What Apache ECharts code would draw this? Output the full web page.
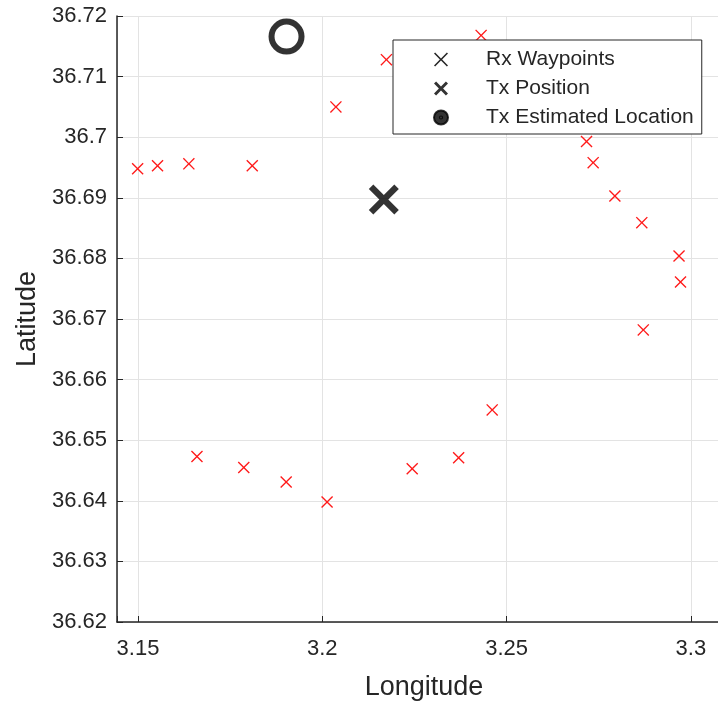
<!DOCTYPE html>
<html>
<head>
<meta charset="utf-8">
<script src="https://cdn.jsdelivr.net/npm/echarts@6/dist/echarts.min.js"></script>
<style>
  html, body { margin: 0; padding: 0; background: #fff; }
  #main { width: 718px; height: 703px; }
</style>
</head>
<body>
<div id="main"></div>
<script>
// receiver waypoints (lon / lat)
var rxLon = [3.1499, 3.1553, 3.1638, 3.1810, 3.2037, 3.2174, 3.2431,
             3.2717, 3.2735, 3.2794, 3.2867, 3.2968, 3.2972, 3.2871,
             3.2461, 3.2370, 3.2244, 3.2013, 3.1902, 3.1787, 3.1660];
var rxLat = [36.6948, 36.6953, 36.6956, 36.6953, 36.7050, 36.7128, 36.7168,
             36.6993, 36.6958, 36.6903, 36.6859, 36.6804, 36.6761, 36.6682,
             36.6550, 36.6471, 36.6453, 36.6398, 36.6431, 36.6455, 36.6473];
var txPos = [3.2167, 36.6897];
var txEst = [3.1903, 36.7166];

var xTicks = ['3.15', '3.2', '3.25', '3.3'];
var yTicks = [36.62, 36.63, 36.64, 36.65, 36.66, 36.67, 36.68, 36.69, 36.70, 36.71, 36.72];

var font = 'Liberation Sans, Arial, Helvetica, sans-serif';
var ink = '#262626';

// marker shapes
var thinX = 'path://M0,8 L8,0 L50,42 L92,0 L100,8 L58,50 L100,92 L92,100 L50,58 L8,100 L0,92 L42,50 Z';
var boldX = 'path://M0,15 L15,0 L50,35 L85,0 L100,15 L65,50 L100,85 L85,100 L50,65 L15,100 L0,85 L35,50 Z';
var ring = 'path://M50,0 A50,50 0 1,1 49.99,0 Z M50,42 A8,8 0 1,0 50.01,42 Z';

var rxData = rxLon.map(function (v, i) { return [v, rxLat[i]]; });

var myChart = echarts.init(document.getElementById('main'));
var option = {
    animation: false,
    backgroundColor: '#fff',
    grid: { left: 117, top: 16, right: -13, bottom: 81, outerBoundsMode: 'none', containLabel: false },
    legend: {
        orient: 'vertical',
        left: 393,
        top: 40,
        padding: [9, 8, 6, 40],
        itemGap: 8,
        itemWidth: 14,
        itemHeight: 14,
        backgroundColor: '#fff',
        borderColor: ink,
        borderWidth: 1,
        borderRadius: 0,
        textStyle: { fontFamily: font, fontSize: 21, lineHeight: 21, color: ink, padding: [0, 0, 0, 33] },
        data: [
            { name: 'Rx Waypoints', icon: thinX, itemStyle: { color: ink } },
            { name: 'Tx Position', icon: boldX, itemStyle: { color: '#000' } },
            { name: 'Tx Estimated Location', icon: ring, itemStyle: { color: '#000' } }
        ]
    },
    xAxis: {
        type: 'value',
        min: 3.1443,
        max: 3.3109,
        splitNumber: 3,
        minInterval: 0.05,
        maxInterval: 0.05,
        name: 'Longitude',
        nameLocation: 'middle',
        nameGap: 52,
        nameTextStyle: { fontFamily: font, fontSize: 27, color: ink },
        axisLine: { lineStyle: { color: ink, width: 1.5 } },
        axisTick: { inside: true, length: 6, lineStyle: { color: ink } },
        axisLabel: {
            fontFamily: font, fontSize: 22, color: ink, margin: 16,
            showMinLabel: true, showMaxLabel: true, hideOverlap: false,
            formatter: function (v) {
                for (var i = 0; i < xTicks.length; i++) {
                    if (Math.abs(parseFloat(xTicks[i]) - v) < 1e-6) return xTicks[i];
                }
                return '';
            }
        },
        splitLine: { show: true, lineStyle: { color: '#e3e3e3', width: 1 } }
    },
    yAxis: {
        type: 'value',
        min: yTicks[0],
        max: yTicks[yTicks.length - 1],
        interval: 0.01,
        name: 'Latitude',
        nameLocation: 'middle',
        nameGap: 74,
        nameTextStyle: { fontFamily: font, fontSize: 27, color: ink },
        axisLine: { show: true, lineStyle: { color: ink, width: 1.5 } },
        axisTick: { show: true, inside: true, length: 6, lineStyle: { color: ink } },
        axisLabel: { fontFamily: font, fontSize: 22, color: ink, margin: 10 },
        splitLine: { show: true, lineStyle: { color: '#e3e3e3', width: 1 } }
    },
    series: [
        {
            name: 'Rx Waypoints',
            type: 'scatter',
            symbol: thinX,
            symbolSize: 12,
            itemStyle: { color: '#ff1a1a', opacity: 1 },
            data: rxData,
            z: 3
        },
        {
            name: 'Tx Position',
            type: 'scatter',
            symbol: boldX,
            symbolSize: 30,
            itemStyle: { color: '#000' },
            data: [txPos],
            z: 4
        },
        {
            name: 'Tx Estimated Location',
            type: 'scatter',
            symbol: 'circle',
            symbolSize: 30,
            itemStyle: { color: 'rgba(0,0,0,0)', borderColor: '#000', borderWidth: 6 },
            data: [txEst],
            z: 4
        }
    ]
};
myChart.setOption(option);
</script>
</body>
</html>
